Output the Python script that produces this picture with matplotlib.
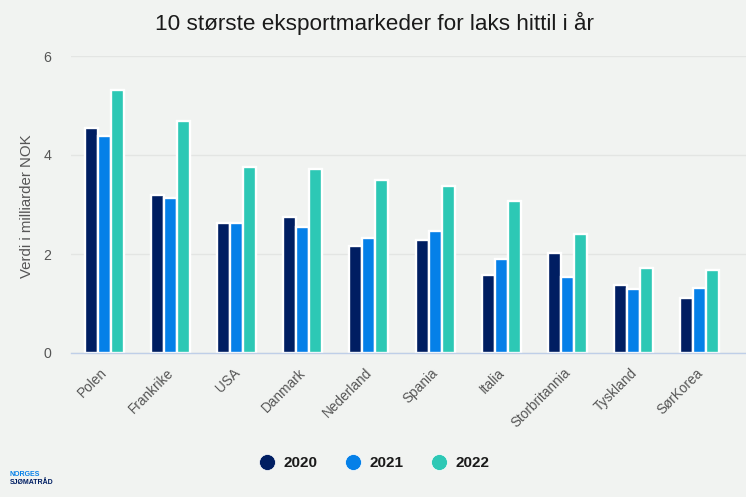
"""10 largest export markets for salmon, year to date."""

import matplotlib.pyplot as plt
import matplotlib.transforms as mtransforms
import numpy as np
from matplotlib.lines import Line2D

plt.rcParams["font.family"] = ["Liberation Sans", "DejaVu Sans"]

W, H = 746, 497
BG = "#f1f3f1"

markets = ["Polen", "Frankrike", "USA", "Danmark", "Nederland",
           "Spania", "Italia", "Storbritannia", "Tyskland", "SørKorea"]
years = ["2020", "2021", "2022"]
colors = ["#001e62", "#0580e8", "#2dc8b5"]
v2020 = [4.55, 3.19, 2.63, 2.75, 2.16, 2.28, 1.57, 2.03, 1.37, 1.12]
v2021 = [4.38, 3.13, 2.63, 2.55, 2.33, 2.47, 1.90, 1.53, 1.30, 1.32]
v2022 = [5.32, 4.68, 3.76, 3.71, 3.50, 3.38, 3.08, 2.40, 1.72, 1.67]
yticks = [0, 2, 4, 6]

fig = plt.figure(figsize=(W / 100, H / 100), dpi=100, facecolor=BG)
ax = fig.add_axes([71 / W, 1 - 353 / H, (W - 71) / W, 297 / H], facecolor=BG)

x = np.arange(len(markets))
step = 66.2
bar_w = 13.0 / step
for i, (vals, col) in enumerate(zip([v2020, v2021, v2022], colors)):
    ax.bar(x + (i - 1) * bar_w, vals, width=bar_w, color=col,
           edgecolor="white", linewidth=1.7, zorder=3)

ax.set_xlim(-0.5, -0.5 + (W - 71) / step)
ax.set_ylim(0, 6)
ax.set_yticks(yticks)
ax.set_xticks(x)
ax.set_xticklabels(markets, rotation=45, ha="right", rotation_mode="anchor",
                   fontsize=9.8, color="#555555")
ax.tick_params(axis="x", length=0, pad=9)
ax.tick_params(axis="y", length=0, pad=14, labelsize=10.2, labelcolor="#555555")
ax.grid(axis="y", color="#e3e5e3", lw=1, zorder=0)
ax.set_axisbelow(True)
for side in ["top", "right", "left"]:
    ax.spines[side].set_visible(False)
ax.spines["bottom"].set_color("#bfcfe8")
ax.spines["bottom"].set_linewidth(1)
ax.spines["bottom"].set_zorder(4)

# nudge the slanted labels left, the anchor sits a bit too far right otherwise
shift = mtransforms.ScaledTranslation(-4 / 100, 0, fig.dpi_scale_trans)
for lab in ax.get_xticklabels():
    lab.set_transform(lab.get_transform() + shift)

fig.text(374 / W, 1 - 23 / H, "10 største eksportmarkeder for laks hittil i år",
         ha="center", va="center", fontsize=16.2, color="#1a1a1a")
fig.text(27 / W, 1 - 206 / H, "Verdi i milliarder NOK", rotation=90,
         ha="center", va="center", fontsize=10.8, color="#555555")

handles = [Line2D([], [], ls="", marker="o", ms=11.5, color=c, mec="white", mew=0.5)
           for c in colors]
leg = fig.legend(handles, years, loc="center", bbox_to_anchor=(370.5 / W, 1 - 463 / H),
                 ncol=3, frameon=False, columnspacing=1.3, handletextpad=0.08,
                 prop={"size": 11, "weight": "bold"}, labelcolor="#1a1a1a")

fig.text(10 / W, 1 - 475 / H, "NORGES", fontsize=5, fontweight="bold",
         color="#0580e8", va="center")
fig.text(10 / W, 1 - 482.5 / H, "SJØMATRÅD", fontsize=5, fontweight="bold",
         color="#001e62", va="center")

fig.savefig("out.png", dpi=100, facecolor=BG)
